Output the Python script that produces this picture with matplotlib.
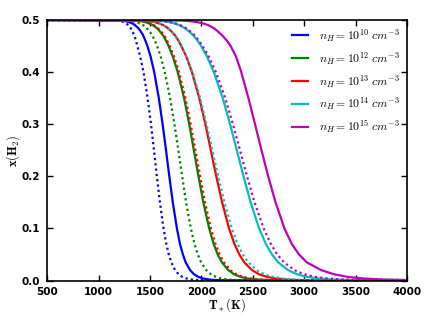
import numpy as np
import matplotlib
matplotlib.use("Agg")
import matplotlib.pyplot as plt

plt.rcParams['mathtext.fontset'] = 'cm'

x_levels = [0.5, 0.499, 0.498, 0.496, 0.493, 0.49, 0.485, 0.48, 0.47, 0.46,
            0.45, 0.43, 0.40, 0.35, 0.30, 0.25, 0.20, 0.15, 0.10, 0.07,
            0.05, 0.035, 0.02, 0.012, 0.007, 0.004, 0.002, 0.001, 0.0004, 0.0]

# solid curves, T_* (K) at each level
T_1e10 = [500, 1218, 1256, 1297, 1332, 1356, 1383, 1404, 1435, 1456,
          1475, 1506, 1541, 1586, 1623, 1656, 1688, 1722, 1762, 1792,
          1820, 1847, 1890, 1928, 1970, 2014, 2071, 2131, 2215, 4000]
T_1e12 = [500, 1356, 1403, 1454, 1498, 1528, 1563, 1589, 1629, 1657,
          1681, 1722, 1770, 1832, 1882, 1927, 1972, 2019, 2076, 2120,
          2159, 2199, 2261, 2318, 2380, 2446, 2534, 2626, 2759, 4000]
T_1e13 = [500, 1435, 1489, 1546, 1596, 1630, 1670, 1700, 1746, 1778,
          1805, 1853, 1908, 1980, 2039, 2092, 2145, 2202, 2269, 2322,
          2369, 2417, 2492, 2561, 2637, 2719, 2827, 2943, 3111, 4000]
T_1e14 = [500, 1554, 1617, 1685, 1745, 1785, 1833, 1869, 1925, 1964,
          1997, 2055, 2121, 2208, 2279, 2345, 2410, 2479, 2562, 2628,
          2687, 2747, 2843, 2931, 3028, 3133, 3273, 3426, 3650, 4000]
T_1e15 = [500, 1800, 1880, 1960, 2025, 2068, 2115, 2150, 2205, 2250,
          2285, 2337, 2388, 2458, 2522, 2585, 2650, 2722, 2808, 2880,
          2950, 3025, 3165, 3290, 3421, 3568, 3765, 3986, 4000, 4000]

# dotted curves
T_1e10_d = [500, 1183, 1213, 1245, 1272, 1290, 1310, 1325, 1348, 1364,
            1377, 1405, 1437, 1477, 1510, 1539, 1567, 1597, 1632, 1659,
            1683, 1707, 1744, 1778, 1814, 1853, 1902, 1954, 2027, 4000]
T_1e12_d = [500, 1282, 1324, 1370, 1409, 1435, 1466, 1489, 1524, 1548,
            1569, 1604, 1644, 1696, 1738, 1776, 1813, 1851, 1898, 1933,
            1965, 1997, 2047, 2092, 2141, 2193, 2261, 2333, 2435, 4000]
T_1e13_d = [500, 1363, 1411, 1463, 1507, 1538, 1573, 1599, 1640, 1668,
            1692, 1734, 1783, 1845, 1896, 1942, 1988, 2036, 2093, 2138,
            2178, 2219, 2282, 2340, 2403, 2470, 2560, 2654, 2790, 4000]
T_1e14_d = [500, 1434, 1488, 1545, 1595, 1629, 1669, 1699, 1744, 1777,
            1803, 1854, 1912, 1988, 2050, 2107, 2164, 2224, 2296, 2353,
            2403, 2456, 2537, 2613, 2695, 2786, 2905, 3034, 3223, 4000]
T_1e15_d = [500, 1563, 1627, 1696, 1756, 1797, 1846, 1883, 1939, 1979,
            2012, 2072, 2141, 2232, 2307, 2376, 2444, 2518, 2606, 2676,
            2738, 2803, 2904, 2999, 3104, 3218, 3370, 3536, 3782, 4000]

colors = ['b', 'g', 'r', 'c', 'm']
labels = [r'$n_H = 10^{10}\ cm^{-3}$', r'$n_H = 10^{12}\ cm^{-3}$',
          r'$n_H = 10^{13}\ cm^{-3}$', r'$n_H = 10^{14}\ cm^{-3}$',
          r'$n_H = 10^{15}\ cm^{-3}$']
solid = [T_1e10, T_1e12, T_1e13, T_1e14, T_1e15]
dotted = [T_1e10_d, T_1e12_d, T_1e13_d, T_1e14_d, T_1e15_d]

fig = plt.figure(figsize=(4.35, 3.15), dpi=100)
ax = fig.add_axes([0.1085, 0.1095, 0.827, 0.827])

for T, c, lab in zip(solid, colors, labels):
    ax.plot(T, x_levels, color=c, lw=1.6, label=lab)
for T, c in zip(dotted, colors):
    ax.plot(T, x_levels, color=c, lw=1.6, linestyle=(0, (1, 1.4)))

ax.set_xlim(500, 4000)
ax.set_ylim(0, 0.5)
ax.set_xticks(np.arange(500, 4001, 500))
ax.set_yticks(np.arange(0, 0.51, 0.1))
ax.set_yticklabels(['%.1f' % v for v in np.arange(0, 0.51, 0.1)])
ax.tick_params(direction='in', top=True, right=True, length=4, width=1,
               labelsize=7.5, pad=5)
for lab in ax.get_xticklabels() + ax.get_yticklabels():
    lab.set_fontweight('bold')
for s in ax.spines.values():
    s.set_linewidth(1.2)

ax.set_xlabel(r'$\mathbf{T_*(K)}$', fontsize=9, labelpad=-1)
ax.set_ylabel(r'$\mathbf{x(H_2)}$', fontsize=9, labelpad=0)

ax.legend(loc='upper right', frameon=False, fontsize=8.5, handlelength=1.4,
          labelspacing=0.5, borderaxespad=0.2, handletextpad=0.9)

fig.savefig('out.png', dpi=100)
